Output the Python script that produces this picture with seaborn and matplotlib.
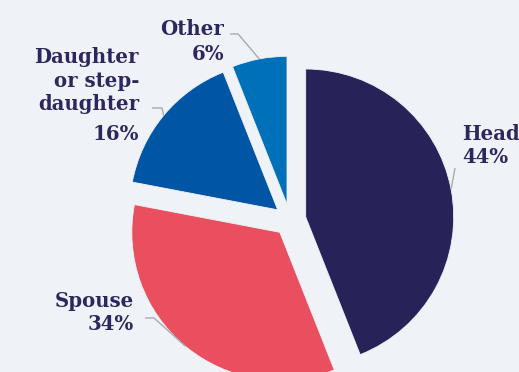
import matplotlib
matplotlib.use("Agg")
import matplotlib.pyplot as plt
import numpy as np
import seaborn as sns

# Relationship to household head, share of members (%)
categories = ["Head", "Spouse", "Daughter\nor step-\ndaughter", "Other"]
shares = [44, 34, 16, 6]
slice_colors = ["#272358", "#e94f5f", "#0055a4", "#0070b9"]

BG = "#eff3f7"
TEXT = "#2a285c"
LINE = "#a8abb0"

sns.set_theme(style="white", rc={"figure.facecolor": BG, "axes.facecolor": BG})
plt.rcParams["font.family"] = ["DejaVu Serif", "DejaVu Sans"]

fig = plt.figure(figsize=(5.19, 3.72), dpi=100)
ax = fig.add_axes([0, 0, 1, 1])
ax.set_facecolor(BG)

explode_frac = 0.108
wedges, _ = ax.pie(
    shares,
    colors=slice_colors,
    startangle=90,
    counterclock=False,
    explode=[explode_frac] * len(shares),
    radius=1.0,
    center=(0, 0),
    wedgeprops=dict(linewidth=0.6, edgecolor=BG),
)

# label layout: (x, first-line baseline, percent baseline, ha, connector points)
layout = {
    "Head": dict(x=1.162, y=0.541, py=0.385, ha="left",
                 path=[(1.115, 0.351)]),
    "Spouse": dict(x=-1.054, y=-0.588, py=-0.743, ha="right",
                   path=[(-0.919, -0.662), (-0.980, -0.662)]),
    "Daughter\nor step-\ndaughter": dict(x=-1.020, y=1.061, py=0.541, ha="right",
                                         path=[(-0.865, 0.757), (-0.932, 0.757)]),
    "Other": dict(x=-0.446, y=1.250, py=1.081, ha="right",
                  path=[(-0.351, 1.257), (-0.405, 1.257)]),
}

step = 0.159
fs = 14.2
for w, name, val in zip(wedges, categories, shares):
    lay = layout[name]
    # point on the outer arc at the middle of the wedge
    mid = np.deg2rad((w.theta1 + w.theta2) / 2)
    cx, cy = w.center
    ax0 = cx + w.r * np.cos(mid)
    ay0 = cy + w.r * np.sin(mid)
    xs = [ax0] + [p[0] for p in lay["path"]]
    ys = [ay0] + [p[1] for p in lay["path"]]
    ax.plot(xs, ys, color=LINE, lw=1.0, solid_capstyle="butt", zorder=1)

    for i, line in enumerate(name.split("\n")):
        ax.text(lay["x"], lay["y"] - i * step, line, ha=lay["ha"], va="baseline",
                fontsize=fs, fontweight="bold", color=TEXT)
    ax.text(lay["x"], lay["py"], f"{val}%", ha=lay["ha"], va="baseline",
            fontsize=fs, fontweight="bold", color=TEXT)

ax.set_xlim(-290 / 148, 229 / 148)
ax.set_ylim(-152 / 148, 220 / 148)
ax.set_aspect("auto")
ax.axis("off")

fig.savefig("out.png", dpi=100, facecolor=BG)
